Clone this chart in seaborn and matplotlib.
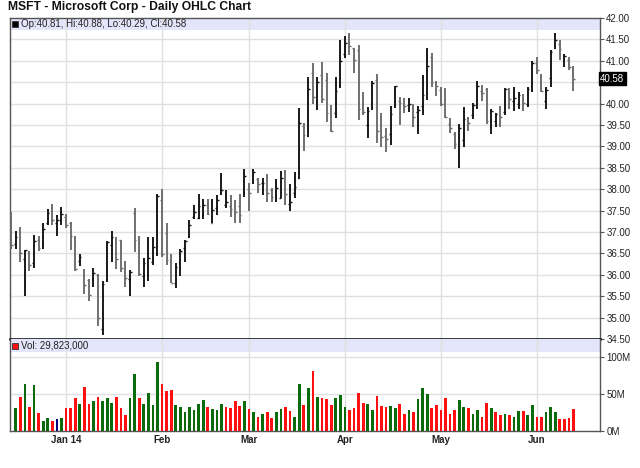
import numpy as np
import pandas as pd
import matplotlib
matplotlib.use("Agg")
import matplotlib.pyplot as plt
import seaborn as sns

# ---------------- data ----------------
holidays = ["2013-12-25", "2014-01-01", "2014-01-20", "2014-02-17", "2014-04-18", "2014-05-26"]
dates = [d for d in pd.bdate_range("2013-12-13", "2014-06-12") if d.strftime("%Y-%m-%d") not in holidays]

opens = [37.45, 36.73, 36.94, 36.38, 36.52, 36.27, 36.81, 36.73, 37.20, 37.58,
         37.22, 37.30, 37.35, 37.20, 36.85, 36.33, 36.00, 35.88, 35.90, 35.99,
         34.73, 35.90, 36.70, 36.83, 36.82, 36.26, 35.90, 37.45, 36.87, 35.98,
         36.00, 36.30, 36.95, 37.74, 36.97, 36.29, 35.80, 36.32, 36.63, 36.88,
         37.35, 37.33, 37.39, 37.63, 37.22, 37.57, 37.94, 37.62, 37.61, 37.58,
         37.60, 37.92, 38.00, 38.22, 38.25, 38.14, 38.28, 37.99, 37.87, 37.80,
         38.42, 37.65, 37.90, 38.26, 39.47, 39.25, 40.72, 40.20, 40.66, 40.56,
         39.74, 39.79, 40.43, 41.15, 41.44, 41.29, 41.25, 39.96, 39.50, 39.93,
         40.55, 39.64, 39.25, 39.30, 39.96, 40.05, 39.99, 39.96, 39.93, 39.80,
         39.95, 40.25, 41.10, 40.48, 40.31, 40.30, 39.52, 39.29, 39.22, 39.16,
         39.67, 39.74, 39.92, 40.30, 40.35, 39.60, 39.60, 39.74, 39.80, 40.28,
         40.05, 40.00, 40.20, 40.00, 40.45, 40.95, 40.61, 40.05, 40.59, 41.30,
         41.39, 41.03, 41.03, 40.81]
highs = [37.47, 37.02, 37.12, 36.59, 36.55, 36.92, 36.90, 37.20, 37.53, 37.65,
         37.39, 37.59, 37.43, 37.24, 36.90, 36.49, 36.13, 35.91, 36.15, 36.02,
         35.86, 36.80, 37.02, 36.88, 36.82, 36.33, 36.11, 37.55, 36.90, 36.39,
         36.88, 36.88, 37.89, 38.01, 37.20, 36.48, 36.27, 36.61, 36.82, 37.27,
         37.62, 37.88, 37.78, 37.78, 37.76, 37.86, 38.37, 37.98, 37.87, 37.75,
         37.89, 38.47, 38.14, 38.48, 38.27, 38.26, 38.36, 38.02, 38.23, 38.43,
         38.45, 38.12, 38.41, 39.89, 39.54, 40.63, 40.95, 40.63, 40.98, 40.71,
         39.97, 40.61, 41.49, 41.59, 41.65, 41.30, 41.38, 40.27, 39.91, 40.53,
         40.69, 39.77, 39.42, 39.95, 40.40, 40.16, 40.14, 40.13, 39.98, 39.95,
         40.67, 41.30, 41.18, 40.53, 40.38, 40.36, 39.66, 39.34, 39.53, 39.91,
         39.69, 40.02, 40.52, 40.44, 40.36, 39.87, 39.79, 39.95, 40.36, 40.36,
         40.38, 40.26, 40.22, 40.38, 41.00, 41.09, 40.69, 40.38, 41.25, 41.66,
         41.48, 41.16, 41.09, 40.88]
lows = [36.61, 36.61, 36.31, 35.50, 36.08, 36.17, 36.55, 36.61, 37.17, 37.17,
        36.90, 37.16, 37.10, 36.58, 36.09, 36.21, 35.56, 35.39, 35.72, 34.80,
        34.60, 35.83, 36.29, 36.13, 36.06, 35.72, 35.50, 36.53, 35.98, 35.72,
        35.86, 36.23, 36.45, 36.41, 36.23, 35.80, 35.70, 35.98, 36.30, 36.87,
        37.31, 37.31, 37.31, 37.39, 37.21, 37.39, 37.86, 37.55, 37.34, 37.20,
        37.22, 37.81, 37.50, 38.13, 37.91, 37.87, 37.69, 37.71, 37.71, 37.79,
        37.62, 37.49, 37.79, 38.23, 38.89, 39.23, 39.98, 39.85, 40.01, 39.58,
        39.33, 39.67, 40.36, 41.06, 41.14, 40.71, 39.62, 39.73, 39.19, 39.85,
        39.07, 38.99, 38.88, 39.03, 39.89, 39.50, 39.77, 39.81, 39.46, 39.28,
        39.73, 40.09, 40.38, 40.18, 39.95, 39.67, 39.32, 38.95, 38.50, 38.98,
        39.36, 39.63, 39.87, 40.06, 39.52, 39.28, 39.45, 39.45, 39.73, 39.87,
        39.83, 39.87, 39.83, 39.91, 40.26, 40.69, 40.26, 39.87, 40.39, 41.27,
        41.02, 40.86, 40.78, 40.29]
closes = [36.69, 36.89, 36.52, 36.58, 36.23, 36.80, 36.62, 37.08, 37.44, 37.29,
          37.29, 37.41, 37.16, 36.91, 36.13, 36.41, 35.76, 35.53, 36.04, 34.98,
          35.78, 36.76, 36.89, 36.38, 36.17, 35.93, 36.06, 36.81, 36.03, 36.27,
          36.40, 36.66, 37.84, 36.48, 36.35, 35.82, 36.18, 36.56, 36.80, 37.17,
          37.47, 37.61, 37.62, 37.42, 37.51, 37.75, 37.98, 37.69, 37.54, 37.47,
          37.40, 38.31, 37.92, 38.41, 38.11, 38.15, 37.90, 37.82, 38.02, 38.27,
          37.89, 37.70, 38.05, 39.55, 39.27, 40.33, 40.16, 40.50, 40.10, 39.79,
          39.36, 40.30, 40.99, 41.42, 41.35, 41.01, 39.87, 39.80, 39.82, 40.47,
          39.36, 39.21, 39.18, 39.75, 40.40, 40.01, 39.94, 39.99, 39.69, 39.86,
          40.20, 40.87, 40.51, 40.40, 40.00, 39.69, 39.43, 39.06, 39.42, 39.64,
          39.54, 39.97, 40.42, 40.24, 39.60, 39.83, 39.75, 39.68, 40.35, 40.10,
          40.12, 40.19, 40.01, 40.34, 40.94, 40.79, 40.29, 40.32, 41.21, 41.48,
          41.27, 41.11, 40.86, 40.58]
# volume in millions of shares (first day's bar is not shown on the chart)
volumes = [np.nan, 31, 46, 63, 33, 62, 24.5, 13, 17, 14,
           16, 17, 31, 31, 44, 36, 60, 36, 40, 46,
           40.5, 44.5, 38, 46, 31, 22, 44.5, 77, 44.5, 36,
           52, 34.5, 93, 63, 54.5, 56, 34.5, 33, 26, 32,
           28, 37, 42, 32, 30, 28, 37, 32, 31, 41,
           33.5, 41, 30, 26, 19.5, 23, 26, 18, 25, 30,
           32, 27, 19.5, 63, 34.5, 58, 81, 46, 44, 43,
           35, 44, 48, 33, 29, 31, 52, 38, 37, 28.5,
           47, 34, 33, 34, 31, 37, 23, 28.5, 26, 43,
           58, 50, 31, 35, 29, 44, 23, 28.5, 42, 33,
           31, 23, 28.5, 19.5, 38, 31, 26, 22, 23, 21,
           18.5, 27, 27, 21, 35, 19.5, 18.5, 25, 32, 25,
           16, 16, 18, 29.823]

title = "MSFT - Microsoft Corp - Daily OHLC Chart"

# ---------------- frame ----------------
df = pd.DataFrame({"date": dates, "open": opens, "high": highs, "low": lows,
                   "close": closes, "vol": volumes})
df["idx"] = np.arange(len(df))
chg = df["close"].diff()
df["dir"] = np.where(chg > 0, "up", np.where(chg < 0, "down", "flat"))

sns.set_theme(style="white")
plt.rcParams["font.family"] = ["Liberation Sans", "DejaVu Sans"]

W, H = 640, 468
fig = plt.figure(figsize=(W / 100, H / 100), dpi=100)

def frac(x0, y0, x1, y1):
    return [x0 / W, 1 - y1 / H, (x1 - x0) / W, (y1 - y0) / H]

axp = fig.add_axes(frac(9.5, 18, 600, 339))
axv = fig.add_axes(frac(9.5, 339, 600, 431), sharex=axp)

xmin, xmax = -0.37, 128.8
grid_c = "#e0e0e0"
frame_c = "#555555"
band_c = "#e4e4fa"

month_first = df.groupby([df["date"].dt.year, df["date"].dt.month])["idx"].min().values[1:]
month_lbl = [df["date"][i].strftime("%b") + (" " + df["date"][i].strftime("%y") if df["date"][i].month == 1 else "")
             for i in month_first]

# ---------------- price panel ----------------
axp.set_xlim(xmin, xmax)
axp.set_ylim(34.5, 42.0)
axp.axhspan(41.72, 42.0, color=band_c, zorder=0.1, lw=0)
for v in np.arange(35.0, 42.0, 0.5):
    axp.axhline(v, color=grid_c, lw=1, zorder=0.2)
for m in month_first:
    axp.axvline(m, color=grid_c, lw=1, zorder=0.2)

up = df["close"] >= df["open"]
bar_c = np.where(up, "#111111", "#6a6a6a")
axp.vlines(df["idx"], df["low"], df["high"], colors=bar_c, lw=1.35, zorder=3)
axp.hlines(df["open"], df["idx"] - 0.36, df["idx"], colors=bar_c, lw=1.0, zorder=3)
axp.hlines(df["close"], df["idx"], df["idx"] + 0.36, colors=bar_c, lw=1.0, zorder=3)

last = df.iloc[-1]
yt = np.arange(34.5, 42.01, 0.5)
axp.yaxis.tick_right()
axp.set_yticks(yt)
axp.set_yticklabels(["" if abs(v - last["close"]) < 0.2 else f"{v:.2f}" for v in yt])
axp.tick_params(axis="y", which="both", right=True, direction="out", length=3, width=0.8,
                color=frame_c, labelsize=7, labelcolor="#222222", pad=1.5)
axp.tick_params(axis="x", bottom=False, labelbottom=False)
axp.text(1.0, last["close"], f"{last['close']:.2f}", transform=axp.get_yaxis_transform(),
         ha="left", va="center", fontsize=7, color="white",
         bbox=dict(boxstyle="square,pad=0.15", fc="black", ec="black"), zorder=10, clip_on=False)
axp.text(-0.003, 1.0 + 11 / 321, title, transform=axp.transAxes, ha="left", va="center",
         fontsize=8.7, fontweight="bold", color="#111111")
axp.plot([0.0085], [0.981], marker="s", ms=4.5, mfc="black", mec="#333333", mew=0.6,
         transform=axp.transAxes, clip_on=False, zorder=5)
axp.text(0.0195, 0.981,
         f"Op:{last['open']:.2f}, Hi:{last['high']:.2f}, Lo:{last['low']:.2f}, Cl:{last['close']:.2f}",
         transform=axp.transAxes, ha="left", va="center", fontsize=7, color="#222222")

for s in ["left", "top", "right"]:
    axp.spines[s].set_color(frame_c)
    axp.spines[s].set_linewidth(1.0)
axp.spines["bottom"].set_color("black")
axp.spines["bottom"].set_linewidth(1.8)
axp.spines["bottom"].set_zorder(6)

# ---------------- volume panel ----------------
vdf = df.dropna(subset=["vol"])
sns.barplot(data=vdf, x="idx", y="vol", hue="dir", native_scale=True, dodge=False,
            palette={"up": "#0b6b0b", "down": "#ff1010", "flat": "#000080"},
            width=0.6, saturation=1, errorbar=None, legend=False, ax=axv, zorder=3,
            linewidth=0)
axv.set_xlim(xmin, xmax)
vtop = 124.3
axv.set_ylim(0, vtop)
axv.axhspan(106.8, vtop, color=band_c, zorder=0.1, lw=0)
for v in [50, 100]:
    axv.axhline(v, color=grid_c, lw=1, zorder=0.2)
for m in month_first:
    axv.axvline(m, color=grid_c, lw=1, zorder=0.2)
axv.set_xlabel("")
axv.set_ylabel("")
axv.yaxis.tick_right()
axv.set_yticks([0, 50, 100])
axv.set_yticklabels(["0M", "50M", "100M"])
axv.tick_params(axis="y", right=True, direction="out", length=3, width=0.8,
                color=frame_c, labelsize=7, labelcolor="#222222", pad=1.5)
axv.set_xticks(month_first)
axv.set_xticklabels(month_lbl)
axv.tick_params(axis="x", bottom=False, length=0, pad=3, labelsize=7, labelcolor="#222222")
for lbl in axv.get_xticklabels():
    lbl.set_fontweight("bold")
axv.plot([0.0085], [0.924], marker="s", ms=4.5, mfc="#ff1010", mec="#333333", mew=0.6,
         transform=axv.transAxes, clip_on=False, zorder=5)
axv.text(0.0195, 0.924, f"Vol: {int(round(last['vol'] * 1e6)):,}", transform=axv.transAxes,
         ha="left", va="center", fontsize=7, color="#222222")
for s in ["left", "bottom", "right"]:
    axv.spines[s].set_color(frame_c)
    axv.spines[s].set_linewidth(1.0)
axv.spines["top"].set_visible(False)

fig.savefig("out.png", dpi=100, facecolor="white")
